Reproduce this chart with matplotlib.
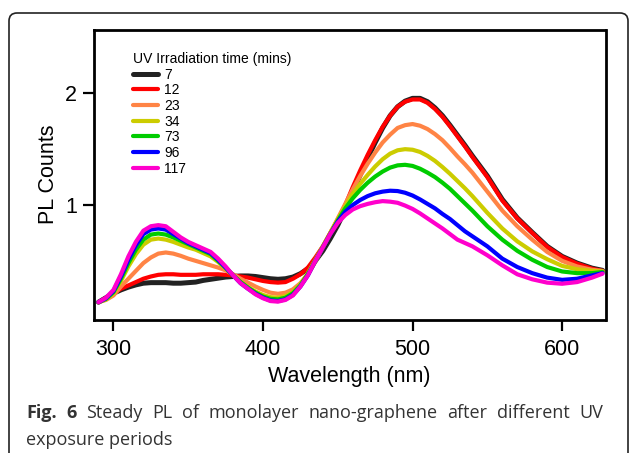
import matplotlib
matplotlib.use('Agg')
import matplotlib.pyplot as plt
from matplotlib.patches import FancyBboxPatch
from matplotlib.transforms import IdentityTransform

# Longueurs d'onde (nm)
wavelength = [290, 295, 300, 305, 310, 315, 320, 325, 330, 335, 340, 345, 350, 355,
              360, 365, 370, 375, 380, 385, 390, 395, 400, 405, 410, 415, 420, 425,
              430, 435, 440, 445, 450, 455, 460, 465, 470, 475, 480, 485, 490, 495,
              500, 505, 510, 515, 520, 525, 530, 535, 540, 550, 560, 570, 580, 590,
              600, 610, 620, 627]

pl_7 = [0.13, 0.17, 0.21, 0.24, 0.265, 0.285, 0.30, 0.305, 0.305, 0.305, 0.30, 0.30, 0.305, 0.31,
        0.325, 0.335, 0.345, 0.355, 0.36, 0.365, 0.365, 0.36, 0.35, 0.34, 0.335, 0.34, 0.355, 0.385,
        0.43, 0.50, 0.59, 0.70, 0.82, 0.96, 1.12, 1.27, 1.42, 1.56, 1.69, 1.80, 1.88, 1.93,
        1.955, 1.955, 1.925, 1.87, 1.80, 1.715, 1.625, 1.535, 1.44, 1.26, 1.05, 0.885, 0.755, 0.63,
        0.54, 0.48, 0.435, 0.415]
pl_12 = [0.13, 0.17, 0.21, 0.25, 0.28, 0.31, 0.34, 0.36, 0.375, 0.38, 0.38, 0.375, 0.375, 0.375,
         0.38, 0.38, 0.38, 0.375, 0.37, 0.36, 0.35, 0.335, 0.32, 0.31, 0.305, 0.31, 0.34, 0.38,
         0.44, 0.53, 0.63, 0.75, 0.87, 1.00, 1.16, 1.31, 1.45, 1.58, 1.70, 1.80, 1.88, 1.925,
         1.945, 1.945, 1.915, 1.86, 1.79, 1.705, 1.615, 1.525, 1.43, 1.25, 1.04, 0.88, 0.75, 0.625,
         0.535, 0.475, 0.43, 0.41]
pl_23 = [0.13, 0.15, 0.19, 0.27, 0.34, 0.41, 0.48, 0.53, 0.565, 0.575, 0.565, 0.545, 0.52, 0.50,
         0.48, 0.46, 0.44, 0.415, 0.38, 0.34, 0.305, 0.27, 0.24, 0.215, 0.205, 0.215, 0.245, 0.30,
         0.38, 0.49, 0.62, 0.75, 0.88, 1.01, 1.14, 1.26, 1.37, 1.47, 1.56, 1.63, 1.69, 1.715,
         1.725, 1.71, 1.68, 1.635, 1.58, 1.51, 1.435, 1.365, 1.29, 1.12, 0.95, 0.81, 0.69, 0.58,
         0.50, 0.45, 0.42, 0.41]
pl_34 = [0.13, 0.155, 0.21, 0.32, 0.45, 0.56, 0.645, 0.69, 0.70, 0.69, 0.67, 0.645, 0.62, 0.60,
         0.57, 0.54, 0.49, 0.43, 0.37, 0.31, 0.265, 0.225, 0.195, 0.175, 0.17, 0.185, 0.22, 0.29,
         0.39, 0.51, 0.63, 0.75, 0.87, 0.99, 1.10, 1.19, 1.27, 1.345, 1.41, 1.46, 1.49, 1.50,
         1.495, 1.475, 1.44, 1.395, 1.34, 1.28, 1.215, 1.15, 1.08, 0.93, 0.79, 0.675, 0.585, 0.515,
         0.455, 0.425, 0.41, 0.405]
pl_73 = [0.13, 0.16, 0.22, 0.34, 0.48, 0.60, 0.69, 0.735, 0.745, 0.735, 0.71, 0.68, 0.65, 0.62,
         0.59, 0.56, 0.50, 0.44, 0.37, 0.31, 0.26, 0.215, 0.18, 0.16, 0.155, 0.17, 0.21, 0.28,
         0.38, 0.50, 0.62, 0.74, 0.86, 0.97, 1.06, 1.135, 1.20, 1.255, 1.30, 1.335, 1.355, 1.36,
         1.35, 1.325, 1.29, 1.25, 1.20, 1.145, 1.08, 1.015, 0.95, 0.81, 0.69, 0.59, 0.51, 0.445,
         0.405, 0.39, 0.39, 0.40]
pl_96 = [0.13, 0.165, 0.23, 0.36, 0.51, 0.64, 0.74, 0.78, 0.79, 0.78, 0.74, 0.70, 0.66, 0.63,
         0.60, 0.57, 0.51, 0.44, 0.37, 0.30, 0.25, 0.205, 0.17, 0.145, 0.14, 0.155, 0.195, 0.27,
         0.37, 0.50, 0.62, 0.74, 0.85, 0.94, 1.00, 1.045, 1.08, 1.105, 1.12, 1.128, 1.125, 1.11,
         1.085, 1.05, 1.01, 0.97, 0.92, 0.875, 0.82, 0.765, 0.72, 0.63, 0.52, 0.445, 0.39, 0.35,
         0.33, 0.34, 0.37, 0.39]
pl_117 = [0.13, 0.17, 0.24, 0.38, 0.54, 0.67, 0.77, 0.81, 0.82, 0.81, 0.76, 0.71, 0.67, 0.64,
          0.61, 0.58, 0.52, 0.45, 0.37, 0.30, 0.25, 0.20, 0.165, 0.14, 0.135, 0.15, 0.19, 0.27,
          0.37, 0.50, 0.62, 0.74, 0.84, 0.91, 0.96, 0.99, 1.01, 1.025, 1.035, 1.03, 1.02, 0.995,
          0.965, 0.925, 0.88, 0.835, 0.79, 0.74, 0.69, 0.66, 0.63, 0.55, 0.46, 0.38, 0.335, 0.305,
          0.295, 0.31, 0.35, 0.385]

labels = ['7', '12', '23', '34', '73', '96', '117']
colors = ['#222222', '#ff0000', '#ff8445', '#cccc00', '#00cc00', '#0000ff', '#ff00cc']
series = [pl_7, pl_12, pl_23, pl_34, pl_73, pl_96, pl_117]

plt.rcParams['font.family'] = ['Liberation Sans', 'DejaVu Sans']

fig = plt.figure(figsize=(6.29, 4.53), dpi=100)
ax = fig.add_axes([94 / 629, 1 - 319.5 / 453, 511.5 / 629, 289.5 / 453])

for lab, ys, c in zip(labels, series, colors):
    lw = 3.6 if lab == '7' else 3
    ax.plot(wavelength, ys, color=c, lw=lw, label=lab,
            solid_capstyle='round', solid_joinstyle='round')

ax.set_xlim(287, 629)
ax.set_ylim(-0.025, 2.567)
ax.set_xticks([300, 400, 500, 600])
ax.set_yticks([1, 2])
for sp in ax.spines.values():
    sp.set_linewidth(2)
ax.tick_params(axis='both', direction='out', length=8, width=1.6, labelsize=15.5)
ax.tick_params(axis='x', pad=6)
ax.tick_params(axis='y', pad=4)

ax.set_xlabel('Wavelength (nm)', fontsize=15.5)
ax.xaxis.set_label_coords(0.5, -0.16)
ax.set_ylabel('PL Counts', fontsize=15.5)
ax.yaxis.set_label_coords(-0.068, 0.5)

leg = ax.legend(title='UV Irradiation time (mins)', loc='upper left',
                bbox_to_anchor=(0.0757, 0.924), frameon=False, fontsize=10,
                title_fontsize=10, handlelength=1.8, handletextpad=0.45,
                labelspacing=0.12, borderaxespad=0, borderpad=0, alignment='left')

# Cadre arrondi autour de la figure
box = FancyBboxPatch((9, -30), 619, 470, boxstyle='round,pad=0,rounding_size=8',
                     transform=IdentityTransform(), fill=False, lw=1.2, ec='#222222')
fig.add_artist(box)

# Légende de la figure (justifiée)
cap_font = dict(family=['Open Sans', 'DejaVu Sans'], size=13, color='#333333')
words = [('Fig.', 'bold'), ('6', 'bold'), ('Steady', 'normal'), ('PL', 'normal'),
         ('of', 'normal'), ('monolayer', 'normal'), ('nano-graphene', 'normal'),
         ('after', 'normal'), ('different', 'normal'), ('UV', 'normal')]
fig.canvas.draw()
renderer = fig.canvas.get_renderer()
texts = []
for w, weight in words:
    t = fig.text(0, 453 - 418, w, transform=IdentityTransform(), va='baseline',
                 weight=weight, **cap_font)
    texts.append(t)
widths = [t.get_window_extent(renderer).width for t in texts]
gap = (603 - 26 - sum(widths)) / (len(words) - 1)
x = 26
for t, wd in zip(texts, widths):
    t.set_x(x)
    x += wd + gap
fig.text(26, 453 - 445, 'exposure periods', transform=IdentityTransform(),
         va='baseline', **cap_font)

fig.savefig('out.png', dpi=100)
